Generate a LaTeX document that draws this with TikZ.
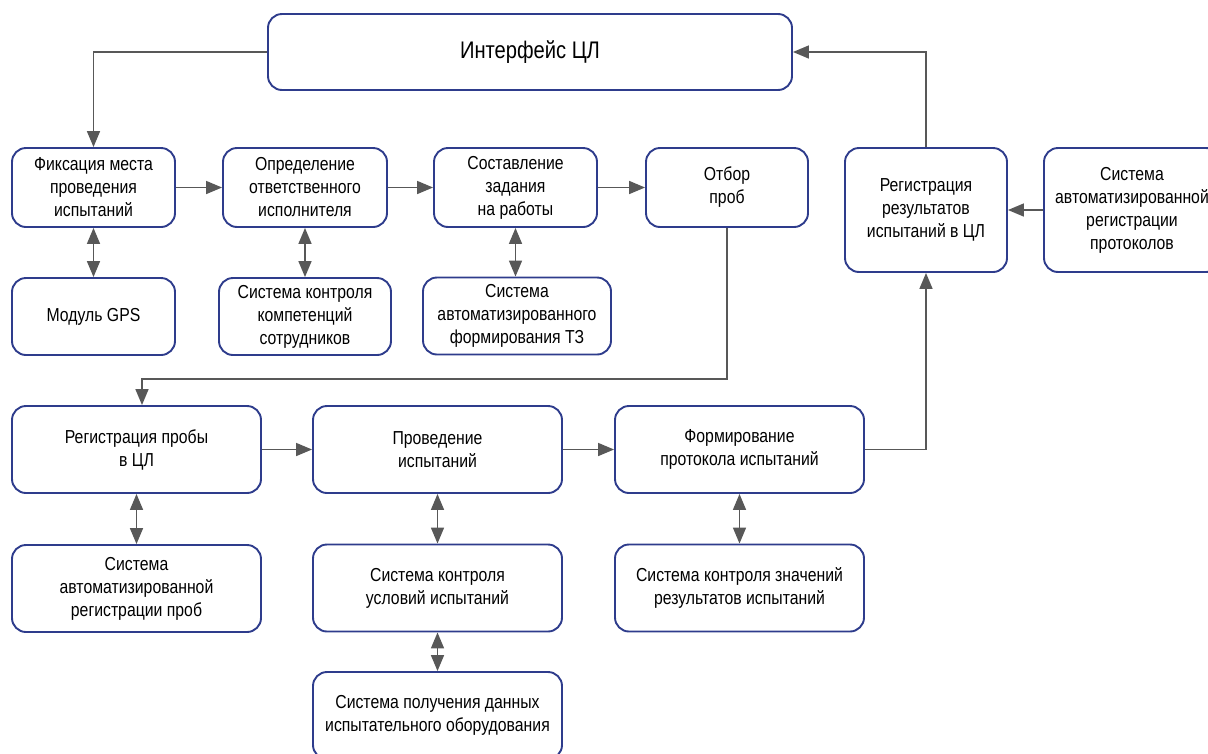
\documentclass[tikz,border=0pt]{standalone}
\usepackage{fontspec}
\setmainfont{Liberation Sans}[FakeStretch=0.84]
\usetikzlibrary{arrows.meta,calc}
\definecolor{navy}{RGB}{46,60,140}
\definecolor{arrgray}{RGB}{88,88,88}
\tikzset{
  box/.style={draw=navy, line width=1.9pt, rounded corners=14pt, fill=white,
    align=center, inner sep=0pt, font=\fontsize{18.8}{23}\selectfont},
  tip/.tip={Triangle[length=16pt,width=13pt]},
  arr/.style={draw=arrgray, line width=1.6pt, -tip},
  darr/.style={draw=arrgray, line width=1.6pt, tip-tip}
}
\begin{document}
\begin{tikzpicture}[x=1pt,y=-1pt]
\useasboundingbox (0,0) rectangle (1208,753);
% nodes
\node[box, minimum width=524, minimum height=76, font=\fontsize{24}{28}\selectfont] (intf) at (530,52) {Интерфейс ЦЛ};
\node[box, minimum width=163, minimum height=79] (fix) at (93.5,187.5) {Фиксация места\\проведения\\испытаний};
\node[box, minimum width=164, minimum height=79] (opr) at (305,187.5) {Определение\\ответственного\\исполнителя};
\node[box, minimum width=163, minimum height=79] (sost) at (515.5,187.5) {Составление\\задания\\на работы};
\node[box, minimum width=162, minimum height=79] (otb) at (727,187.5) {Отбор\\проб};
\node[box, minimum width=162, minimum height=124] (regres) at (926,210) {Регистрация\\результатов\\испытаний в ЦЛ};
\node[box, minimum width=176, minimum height=124] (protok) at (1132,210) {Система\\автоматизированной\\регистрации\\протоколов};
\node[box, minimum width=163, minimum height=77] (gps) at (93.5,316.5) {Модуль GPS};
\node[box, minimum width=172, minimum height=77] (komp) at (305,316.5) {Система контроля\\компетенций\\сотрудников};
\node[box, minimum width=188, minimum height=77] (tz) at (517,316) {Система\\автоматизированного\\формирования ТЗ};
\node[box, minimum width=249, minimum height=87] (regprob) at (136.5,449.5) {Регистрация пробы\\в ЦЛ};
\node[box, minimum width=249, minimum height=87] (prov) at (437.5,449.5) {Проведение\\испытаний};
\node[box, minimum width=249, minimum height=87] (form) at (739.5,449.5) {Формирование\\протокола испытаний};
\node[box, minimum width=249, minimum height=87] (arp) at (136.5,588.5) {Система\\автоматизированной\\регистрации проб};
\node[box, minimum width=249, minimum height=87] (kus) at (437.5,588) {Система контроля\\условий испытаний};
\node[box, minimum width=249, minimum height=87] (kzn) at (739.5,588) {Система контроля значений\\результатов испытаний};
\node[box, minimum width=249, minimum height=87] (pol) at (437.5,715.5) {Система получения данных\\испытательного оборудования};
% connectors
\coordinate (c1) at (142,379);
\draw[arr] (intf.west) -| (fix.north);
\draw[arr] (fix.east) -- (opr.west);
\draw[arr] (opr.east) -- (sost.west);
\draw[arr] (sost.east) -- (otb.west);
\draw[darr] (fix.south) -- (gps.north);
\draw[darr] (opr.south) -- (komp.north);
\draw[darr] (sost.south) -- (sost.south |- tz.north);
\draw[arr] (otb.south) |- (c1) -- (c1 |- regprob.north);
\draw[arr] (regprob.east) -- (prov.west);
\draw[arr] (prov.east) -- (form.west);
\draw[darr] (regprob.south) -- (arp.north);
\draw[darr] (prov.south) -- (kus.north);
\draw[darr] (kus.south) -- (pol.north);
\draw[darr] (form.south) -- (kzn.north);
\draw[arr] (form.east) -| (regres.south);
\draw[arr] (regres.north) |- (intf.east);
\draw[arr] (protok.west) -- (regres.east);
\end{tikzpicture}
\end{document}
